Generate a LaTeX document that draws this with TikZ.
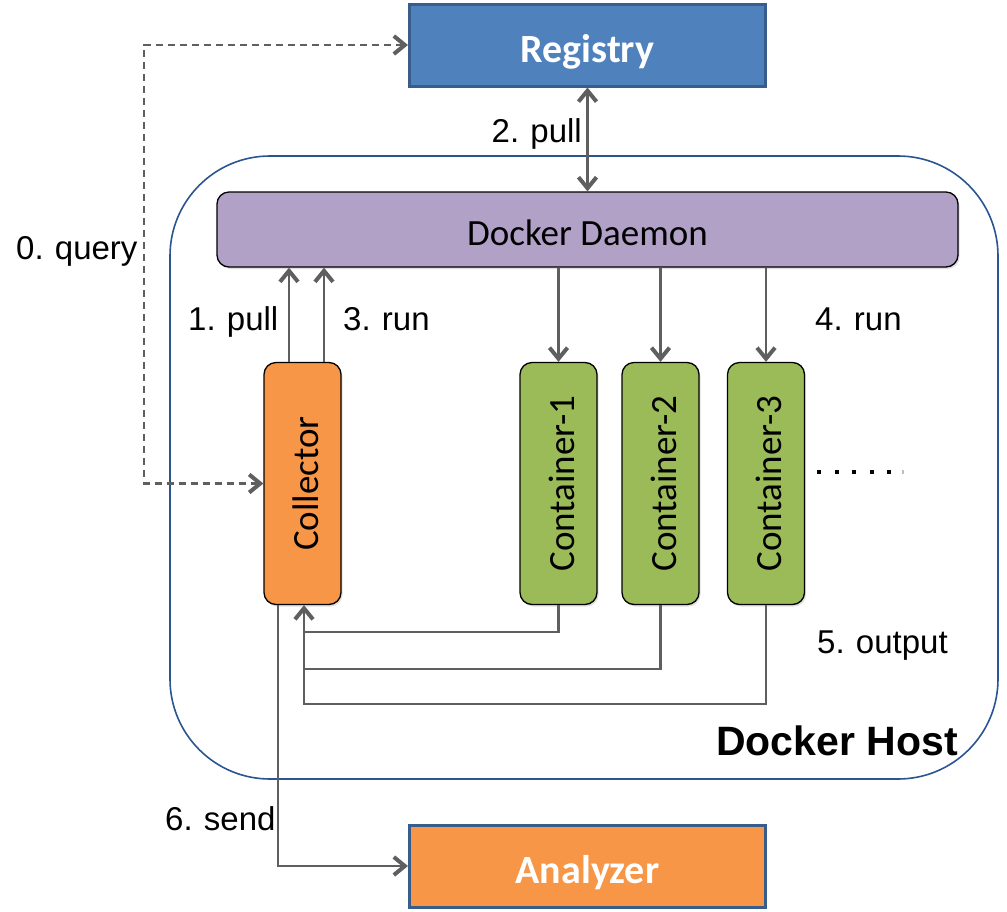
\documentclass[tikz,border=0pt]{standalone}
\usepackage{fontspec}
\setmainfont{Liberation Sans}
\newfontfamily\carl{Carlito}
\usetikzlibrary{arrows.meta,calc,shadows}
\definecolor{regfill}{HTML}{4F81BD}
\definecolor{regline}{HTML}{385D8A}
\definecolor{daemonfill}{HTML}{B2A1C7}
\definecolor{orangefill}{HTML}{F79646}
\definecolor{greenfill}{HTML}{9BBB59}
\definecolor{hostline}{HTML}{2A5592}
\definecolor{arrgray}{HTML}{5F5F5F}
\begin{document}
\begin{tikzpicture}[x=1pt,y=-1pt,
  lbl/.style={font=\fontsize{33}{38}\selectfont, inner sep=0},
  boxtxt/.style={font=\carl\fontsize{37}{40}\selectfont, inner sep=0},
  bigtxt/.style={font=\carl\bfseries\fontsize{40}{44}\selectfont, text=white, inner sep=0},
  sqbox/.style={draw=regline, line width=3pt, inner sep=0, minimum width=356, minimum height=82},
  rbox/.style={draw=black, line width=1.3pt, rounded corners=12pt, inner sep=0,
     drop shadow={shadow xshift=1.5pt, shadow yshift=-2pt, opacity=0.25}},
  tall/.style={rbox, minimum width=77, minimum height=242},
  tip/.style={-{Straight Barb[length=11pt,width=18pt,line width=4pt]}},
  bitip/.style={{Straight Barb[length=11pt,width=18pt,line width=4pt]}-{Straight Barb[length=11pt,width=18pt,line width=4pt]}},
  conn/.style={draw=arrgray, line width=2.4pt},
  qline/.style={conn, dash pattern=on 7pt off 5pt}
]
\useasboundingbox (0,0) rectangle (1007,911);

% Docker host
\node[draw=hostline, line width=1.6pt, rounded corners=100pt, minimum width=828, minimum height=623, inner sep=0] (host) at (584,467.5) {};
\node[font=\bfseries\fontsize{41}{44}\selectfont, inner sep=0, anchor=base east] (hostlbl) at (958,755) {Docker Host};

% boxes
\node[sqbox, fill=regfill] (reg) at (587.5,45) {};
\node[bigtxt, anchor=base] (regtxt) at (587.5,62) {Registry};
\node[sqbox, fill=orangefill] (ana) at (587.5,866) {};
\node[bigtxt, anchor=base] (anatxt) at (587.5,883) {Analyzer};

\node[rbox, fill=daemonfill, minimum width=741, minimum height=75] (dae) at (587.5,229.5) {};
\node[boxtxt, anchor=base] (daetxt) at (587.5,245) {Docker Daemon};

\node[tall, fill=orangefill] (col) at (302.5,483.5) {};
\node[tall, fill=greenfill] (c1) at (558.5,483.5) {};
\node[tall, fill=greenfill] (c2) at (660.5,483.5) {};
\node[tall, fill=greenfill] (c3) at (766,483.5) {};
\node[boxtxt, rotate=90, anchor=base] (coltxt) at ([xshift=15.5pt]col.center) {Collector};
\node[boxtxt, rotate=90, anchor=base] (c1txt) at ([xshift=15.5pt]c1.center) {Container-1};
\node[boxtxt, rotate=90, anchor=base] (c2txt) at ([xshift=15.5pt]c2.center) {Container-2};
\node[boxtxt, rotate=90, anchor=base] (c3txt) at ([xshift=15.5pt]c3.center) {Container-3};

% dots
\foreach \xx in {819,837,854,872,889}
  \fill (\xx-1.8,470.2) rectangle (\xx+1.8,473.8);
\fill[black!25] (902,470.2) rectangle (904,473.8);

% labels
\node[lbl, anchor=base west] (l0) at (16,259) {0.\kern-1pt{} query};
\node[lbl, anchor=base east] (l2) at (582,142) {2.\kern-1pt{} pull};
\node[lbl, anchor=base west] (l1) at (188,330) {1.\kern-1pt{} pull};
\node[lbl, anchor=base west] (l3) at (343,330) {3.\kern-1pt{} run};
\node[lbl, anchor=base west] (l4) at (815,330) {4.\kern-1pt{} run};
\node[lbl, anchor=base west] (l5) at (817,653) {5.\kern-1pt{} output};
\node[lbl, anchor=base west] (l6) at (165,830) {6.\kern-1pt{} send};

% coordinates
\coordinate (q) at (144,260);
\coordinate (o1) at (304,632);
\coordinate (o2) at (304,669);
\coordinate (o3) at (304,704);
\coordinate (s) at (278,700);

% connectors
\draw[qline, bitip] (reg.west) -| (q) |- (col.west);
\draw[conn, bitip] (reg.south) -- (dae.north);
\draw[conn, tip] ([xshift=-13.5pt]col.north) -- ([xshift=-13.5pt]col.north |- dae.south);
\draw[conn, tip] ([xshift=21.5pt]col.north) -- ([xshift=21.5pt]col.north |- dae.south);
\draw[conn, tip] (c1.north |- dae.south) -- (c1.north);
\draw[conn, tip] (c2.north |- dae.south) -- (c2.north);
\draw[conn, tip] (c3.north |- dae.south) -- (c3.north);
\draw[conn] (c1.south) |- (o1);
\draw[conn] (c2.south) |- (o2);
\draw[conn, tip] (c3.south) |- (o3) -- (col.south -| o3);
\draw[conn, tip] (col.south -| s) |- (ana.west);
\end{tikzpicture}
\end{document}
